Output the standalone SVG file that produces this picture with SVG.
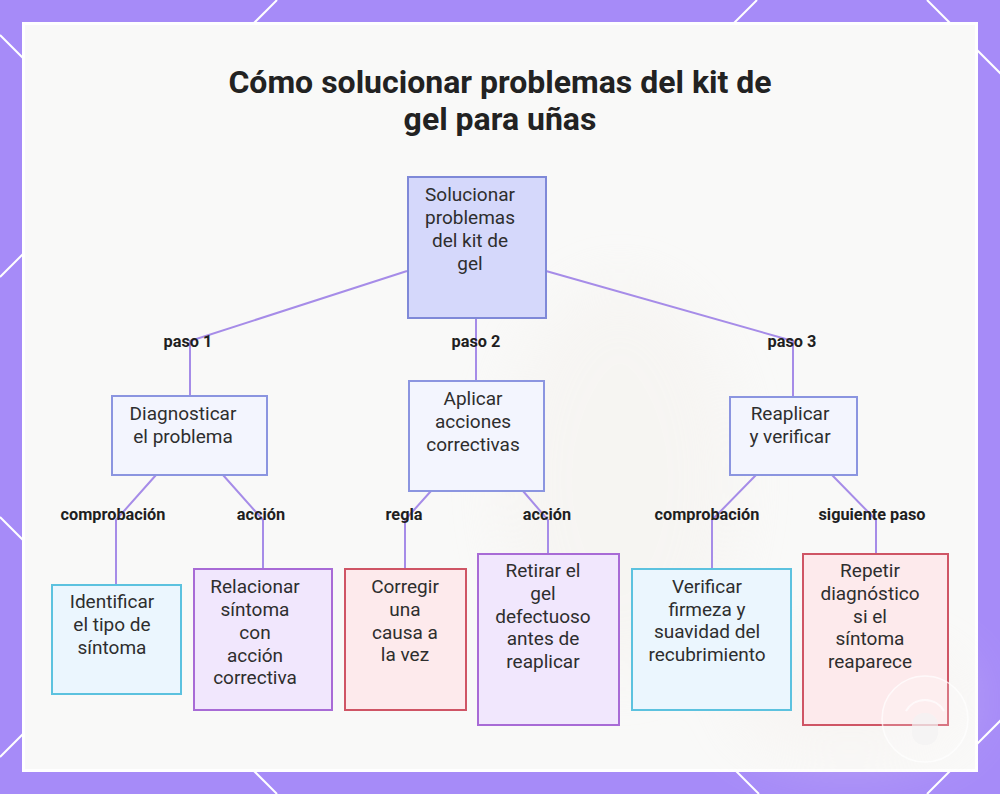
<svg xmlns="http://www.w3.org/2000/svg" width="1000" height="794" viewBox="0 0 1000 794">
  <defs>
    <style>
      .node rect { stroke-width: 2; }
      .n-root rect { fill: #d5d8fb; stroke: #7f89d8; }
      .n-mid rect { fill: #f3f5fe; stroke: #8b95e0; }
      .n-cyan rect { fill: #ebf6fe; stroke: #5cc2df; }
      .n-purple rect { fill: #f1e7fd; stroke: #a86bd6; }
      .n-red rect { fill: #fdeaec; stroke: #cf5565; }
      .node text { font-family: Roboto, "Liberation Sans", sans-serif; font-size: 19px; fill: #2e2e2e; text-anchor: middle; }
      .edge { fill: none; stroke: #a68ce8; stroke-width: 2; }
      .elabel { font-family: Roboto, "Liberation Sans", sans-serif; font-size: 16.3px; font-weight: bold; fill: #1f1f1f; text-anchor: middle; }
      .title { font-family: Roboto, "Liberation Sans", sans-serif; font-size: 32px; font-weight: bold; fill: #222222; text-anchor: middle; }
      .deco { stroke: #ffffff; stroke-width: 2; fill: none; }
    </style>
    <filter id="blur" x="-50%" y="-50%" width="200%" height="200%">
      <feGaussianBlur stdDeviation="30"/>
    </filter>
  </defs>

  <!-- outer background -->
  <rect x="0" y="0" width="1000" height="794" fill="#a68bf8"/>
  <g class="deco">
    <line x1="0" y1="277" x2="277" y2="0"/>
    <line x1="0" y1="757" x2="757" y2="0"/>
    <line x1="927" y1="0" x2="1721" y2="794"/>
    <line x1="0" y1="35" x2="759" y2="794"/>
    <line x1="0" y1="517" x2="277" y2="794"/>
    <line x1="927" y1="794" x2="1721" y2="0"/>
  </g>

  <!-- panel -->
  <rect x="22" y="22" width="956" height="750" fill="#ffffff"/>
  <rect x="25" y="25" width="950" height="744" fill="#f9f9f8"/>
  <g filter="url(#blur)" opacity="0.3">
    <ellipse cx="620" cy="480" rx="120" ry="200" fill="#f1ece6"/>
    <ellipse cx="850" cy="700" rx="120" ry="60" fill="#f4ece8"/>
  </g>

  <!-- title -->
  <text class="title" x="500" y="93">Cómo solucionar problemas del kit de</text>
  <text class="title" x="500" y="130">gel para uñas</text>

  <!-- connectors -->
  <g id="connectors">
    <polyline class="edge" points="407,271 190,341 190,396"/>
    <polyline class="edge" points="476,318 476,381"/>
    <polyline class="edge" points="546,271 793,341 793,397"/>
    <polyline class="edge" points="156,475 116,520 116,584"/>
    <polyline class="edge" points="223,475 263,520 263,569"/>
    <polyline class="edge" points="431,491 405,520 405,569"/>
    <polyline class="edge" points="523,491 548,520 548,554"/>
    <polyline class="edge" points="756,475 712,520 712,569"/>
    <polyline class="edge" points="832,475 876,520 876,554"/>
  </g>

  <!-- connector labels -->
  <g id="edge-labels">
    <text class="elabel" x="188" y="347">paso 1</text>
    <text class="elabel" x="476" y="347">paso 2</text>
    <text class="elabel" x="792" y="347">paso 3</text>
    <text class="elabel" x="113" y="520">comprobación</text>
    <text class="elabel" x="261" y="520">acción</text>
    <text class="elabel" x="404" y="520">regla</text>
    <text class="elabel" x="547" y="520">acción</text>
    <text class="elabel" x="707" y="520">comprobación</text>
    <text class="elabel" x="872" y="520">siguiente paso</text>
  </g>

  <!-- nodes -->
  <g id="root" class="node n-root">
    <rect x="408" y="177" width="138" height="141"/>
    <text x="470" y="201">Solucionar</text>
    <text x="470" y="224">problemas</text>
    <text x="470" y="247">del kit de</text>
    <text x="470" y="270">gel</text>
  </g>
  <g id="diagnosticar" class="node n-mid">
    <rect x="112" y="396" width="155" height="79"/>
    <text x="183" y="420">Diagnosticar</text>
    <text x="183" y="443">el problema</text>
  </g>
  <g id="aplicar" class="node n-mid">
    <rect x="409" y="381" width="135" height="110"/>
    <text x="473" y="405">Aplicar</text>
    <text x="473" y="428">acciones</text>
    <text x="473" y="451">correctivas</text>
  </g>
  <g id="reaplicar" class="node n-mid">
    <rect x="730" y="397" width="127" height="78"/>
    <text x="790" y="420">Reaplicar</text>
    <text x="790" y="443">y verificar</text>
  </g>
  <g id="identificar" class="node n-cyan">
    <rect x="52" y="585" width="129" height="109"/>
    <text x="112" y="608">Identificar</text>
    <text x="112" y="631">el tipo de</text>
    <text x="112" y="654">síntoma</text>
  </g>
  <g id="relacionar" class="node n-purple">
    <rect x="194" y="569" width="138" height="141"/>
    <text x="255" y="593">Relacionar</text>
    <text x="255" y="616">síntoma</text>
    <text x="255" y="639">con</text>
    <text x="255" y="662">acción</text>
    <text x="255" y="684">correctiva</text>
  </g>
  <g id="corregir" class="node n-red">
    <rect x="345" y="569" width="121" height="141"/>
    <text x="405" y="593">Corregir</text>
    <text x="405" y="616">una</text>
    <text x="405" y="639">causa a</text>
    <text x="405" y="661">la vez</text>
  </g>
  <g id="retirar" class="node n-purple">
    <rect x="478" y="554" width="141" height="171"/>
    <text x="543" y="577">Retirar el</text>
    <text x="543" y="600">gel</text>
    <text x="543" y="623">defectuoso</text>
    <text x="543" y="645">antes de</text>
    <text x="543" y="668">reaplicar</text>
  </g>
  <g id="verificar" class="node n-cyan">
    <rect x="632" y="569" width="159" height="141"/>
    <text x="707" y="593">Verificar</text>
    <text x="707" y="616">firmeza y</text>
    <text x="707" y="638">suavidad del</text>
    <text x="707" y="661">recubrimiento</text>
  </g>
  <g id="repetir" class="node n-red">
    <rect x="803" y="554" width="145" height="171"/>
    <text x="870" y="577">Repetir</text>
    <text x="870" y="600">diagnóstico</text>
    <text x="870" y="623">si el</text>
    <text x="870" y="645">síntoma</text>
    <text x="870" y="668">reaparece</text>
  </g>

  <!-- faint watermark button -->
  <g opacity="0.75">
    <circle cx="925" cy="719" r="43" fill="#ffffff" fill-opacity="0.25" stroke="#ffffff" stroke-width="1.5"/>
    <path d="M 906 711 A 22 22 0 0 1 944 711" fill="none" stroke="#ffffff" stroke-width="2"/>
    <rect x="912" y="713" width="26" height="32" rx="12" fill="#f4f4f4"/>
  </g>
</svg>
